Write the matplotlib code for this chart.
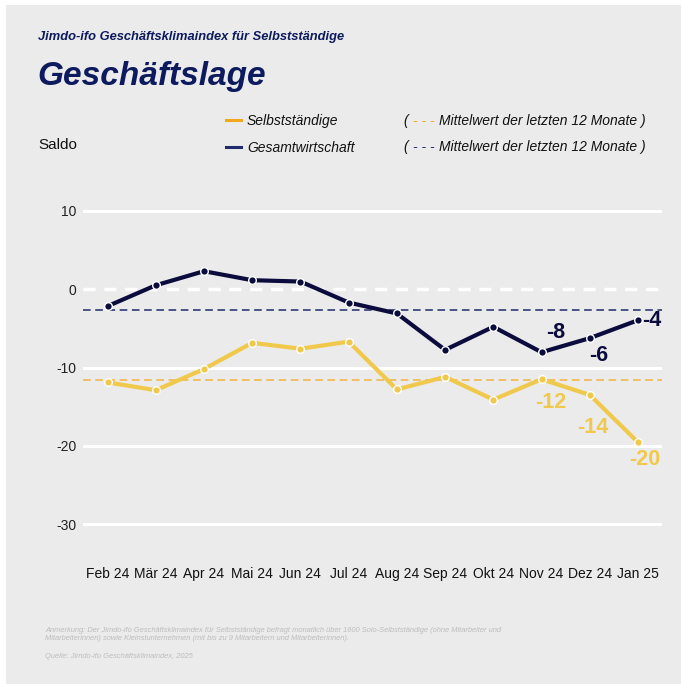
import matplotlib
matplotlib.use("Agg")
import matplotlib.pyplot as plt
from matplotlib.patches import Rectangle
from matplotlib.lines import Line2D

plt.rcParams['font.family'] = ['Liberation Sans', 'DejaVu Sans']

months = ["Feb 24", "Mär 24", "Apr 24", "Mai 24", "Jun 24", "Jul 24",
          "Aug 24", "Sep 24", "Okt 24", "Nov 24", "Dez 24", "Jan 25"]
selbst = [-11.9, -12.9, -10.2, -6.85, -7.6, -6.7, -12.8, -11.2, -14.1, -11.5, -13.5, -19.55]
gesamt = [-2.17, 0.5, 2.3, 1.15, 0.98, -1.7, -3.1, -7.75, -4.8, -8.05, -6.25, -3.96]
selbst_mean = -11.6
gesamt_mean = -2.7
yticks = [10, 0, -10, -20, -30]

# labelled points: (index, text, dx px, dy px)
selbst_labels = [(9, "-12", 9, -23), (10, "-14", 3, -33), (11, "-20", 7, -17)]
gesamt_labels = [(9, "-8", 14, 20), (10, "-6", 9, -17), (11, "-4", 14, 0)]

W, H = 681, 684
bg = "#ebebeb"
fig = plt.figure(figsize=(W / 100, H / 100), dpi=100)
fig.patch.set_facecolor(bg)
fig.add_artist(Rectangle((0, 0), 6 / W, 1, transform=fig.transFigure,
                         facecolor="white", edgecolor="none", zorder=-10))
fig.add_artist(Rectangle((0, 1 - 5 / H), 1, 5 / H, transform=fig.transFigure,
                         facecolor="white", edgecolor="none", zorder=-10))

ax = fig.add_axes([83.4 / W, 1 - 528 / H, (662.1 - 83.4) / W, (528 - 207) / H])
ax.set_facecolor("none")
for s in ax.spines.values():
    s.set_visible(False)

x = list(range(len(months)))
ax.set_xlim(-0.5, 11.5)
ax.set_ylim(-30.5, 10.5)

for v in yticks:
    if v == 0:
        ax.axhline(v, color="white", lw=2.5, ls=(0, (3.5, 2.5)), zorder=1)
    else:
        ax.axhline(v, color="white", lw=2.2, zorder=1)

navy = "#0b0c3d"
yellow = "#f0c94c"
ax.axhline(gesamt_mean, color="#1f2b6b", lw=1.1, ls=(0, (5, 3)), zorder=2)
ax.axhline(selbst_mean, color="#f2b23e", lw=1.1, ls=(0, (5, 3)), zorder=2)

ax.plot(x, selbst, color=yellow, lw=3, marker="o", ms=5.5, mfc=yellow,
        mec="white", mew=1.0, zorder=3, solid_joinstyle="round")
ax.plot(x, gesamt, color=navy, lw=3, marker="o", ms=5.5, mfc=navy,
        mec="white", mew=1.0, zorder=4, solid_joinstyle="round")

for i, t, dx, dy in selbst_labels:
    ax.annotate(t, (x[i], selbst[i]), xytext=(dx, dy), textcoords="offset pixels",
                ha="center", va="center", fontsize=15.5, fontweight="bold",
                color=yellow, zorder=5)
for i, t, dx, dy in gesamt_labels:
    ha = "left" if i == 11 else "center"
    ax.annotate(t, (x[i], gesamt[i]), xytext=(dx if ha == "center" else 4, dy),
                textcoords="offset pixels", ha=ha, va="center", fontsize=15.5,
                fontweight="bold", color=navy, zorder=5)

ax.set_yticks(yticks)
ax.set_yticklabels([str(v) for v in yticks], fontsize=10, color="#222222")
ax.set_xticks(x)
ax.set_xticklabels(months, fontsize=10, color="#111111")
ax.tick_params(axis="both", length=0)
ax.tick_params(axis="y", pad=5)
ax.tick_params(axis="x", pad=28)

# titles
fig.text(38 / W, 1 - 37 / H, "Jimdo-ifo Geschäftsklimaindex für Selbstständige",
         fontsize=9.3, fontweight="bold", fontstyle="italic", color="#0d1a5e",
         ha="left", va="center")
fig.text(37 / W, 1 - 76 / H, "Geschäftslage", fontsize=24, fontweight="bold",
         fontstyle="italic", color="#0d1a5e", ha="left", va="center")
fig.text(38 / W, 1 - 145 / H, "Saldo", fontsize=11, color="#111111",
         ha="left", va="center")

# legend
fig.add_artist(Line2D([226 / W, 241 / W], [1 - 120 / H] * 2, color="#f2a81e", lw=2.2,
                      transform=fig.transFigure))
fig.add_artist(Line2D([226 / W, 241 / W], [1 - 147 / H] * 2, color="#1f2b6b", lw=2.2,
                      transform=fig.transFigure))
fig.text(247 / W, 1 - 121 / H, "Selbstständige", fontsize=10, fontstyle="italic",
         color="#111111", ha="left", va="center")
fig.text(247 / W, 1 - 148 / H, "Gesamtwirtschaft", fontsize=10, fontstyle="italic",
         color="#111111", ha="left", va="center")
for yy, col in [(121, "#f2a81e"), (147, "#1f2b6b")]:
    fig.text(404 / W, 1 - yy / H, "( ", fontsize=10, fontstyle="italic",
             color="#111111", ha="left", va="center")
    fig.text(413 / W, 1 - yy / H, "- - -", fontsize=10, fontstyle="italic",
             color=col, ha="left", va="center")
    fig.text(439 / W, 1 - yy / H, "Mittelwert der letzten 12 Monate )", fontsize=10,
             fontstyle="italic", color="#111111", ha="left", va="center")

# footnotes
fn = "#bdbdbd"
fig.text(45 / W, 1 - 630 / H,
         "Anmerkung: Der Jimdo-ifo Geschäftsklimaindex für Selbstständige befragt monatlich über 1600 Solo-Selbstständige (ohne Mitarbeiter und",
         fontsize=5.45, fontstyle="italic", color=fn, ha="left", va="center")
fig.text(45 / W, 1 - 639 / H,
         "Mitarbeiterinnen) sowie Kleinstunternehmen (mit bis zu 9 Mitarbeitern und Mitarbeiterinnen).",
         fontsize=5.45, fontstyle="italic", color=fn, ha="left", va="center")
fig.text(45 / W, 1 - 657 / H, "Quelle: Jimdo-ifo Geschäftsklimaindex, 2025",
         fontsize=5.45, fontstyle="italic", color=fn, ha="left", va="center")

fig.savefig("out.png", dpi=100, facecolor=fig.get_facecolor())
